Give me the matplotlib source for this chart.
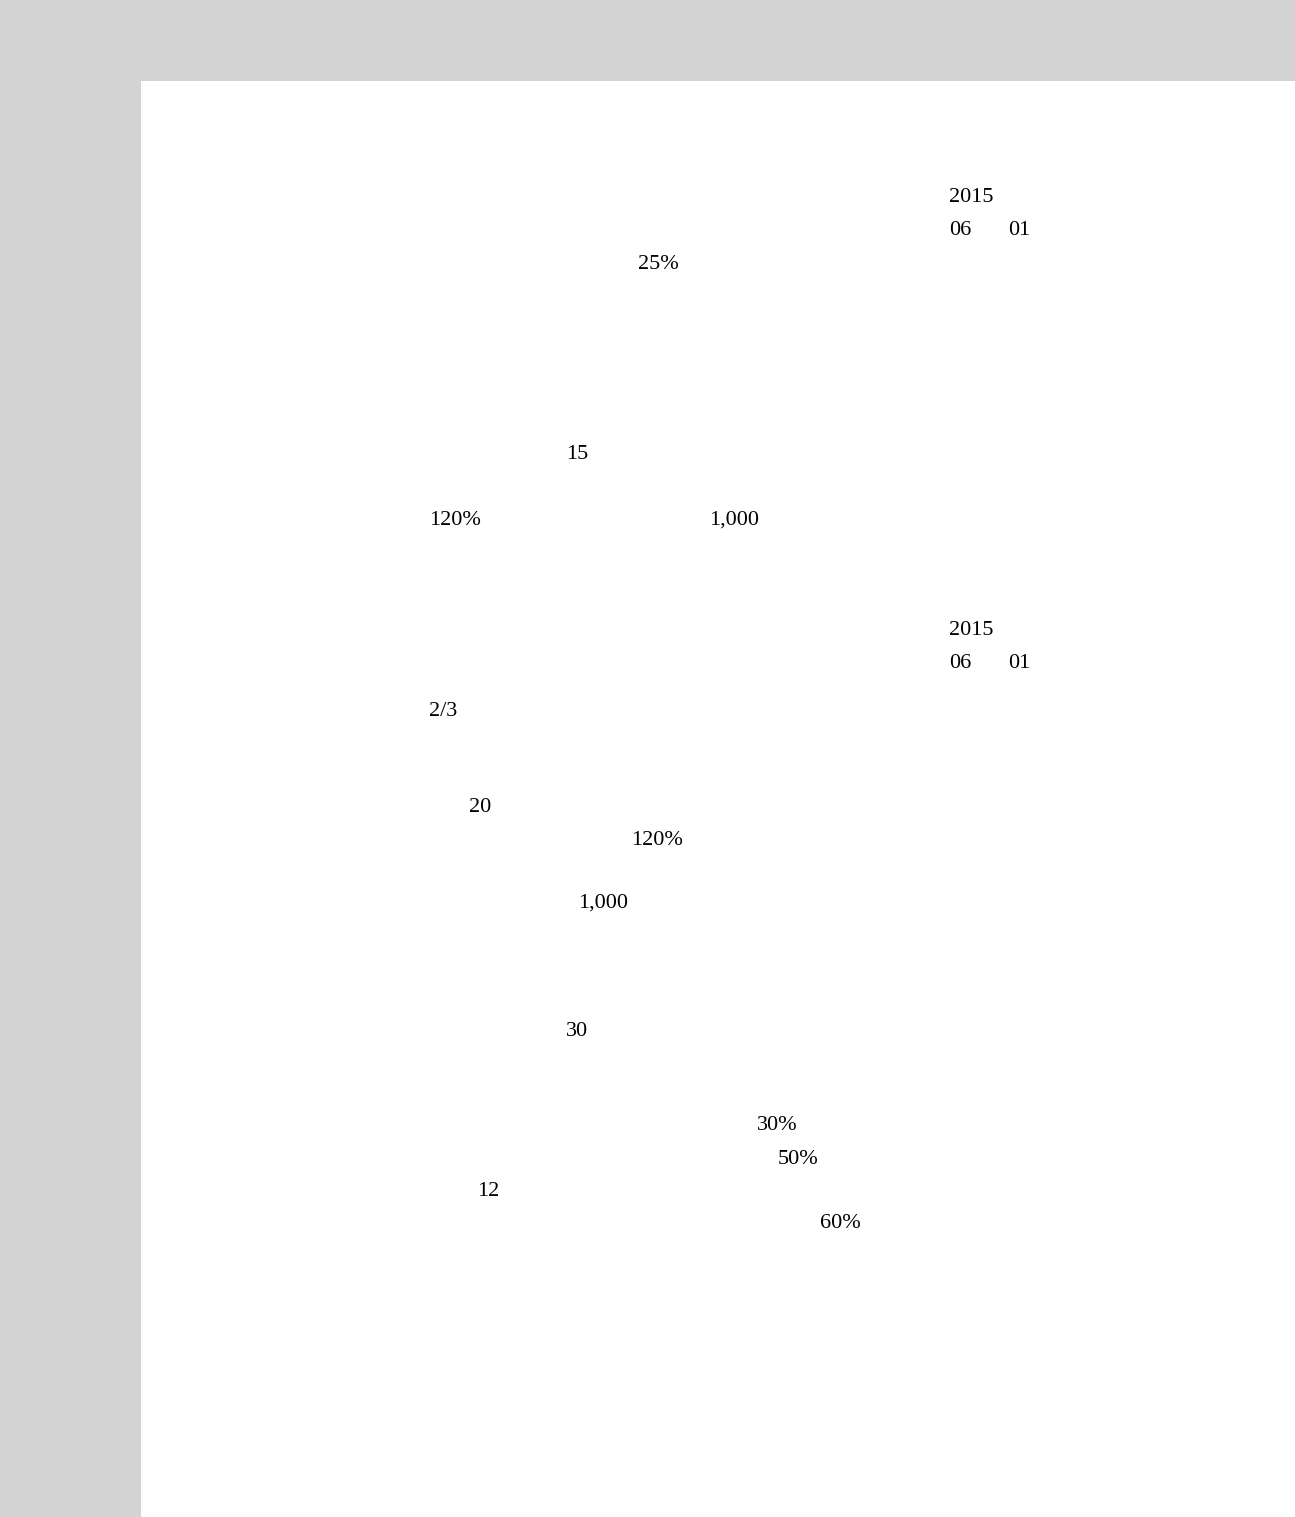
import matplotlib
matplotlib.use("Agg")
import matplotlib.pyplot as plt
from matplotlib.patches import Rectangle

# Text fragments visible on the page (glyphs other than digits are not rendered)
labels = ["2015", "06", "01", "25%", "15", "120%", "1,000",
          "2015", "06", "01", "2/3", "20", "120%", "1,000",
          "30", "30%", "50%", "12", "60%"]
label_x = [949, 949, 1008, 638, 566, 429, 709,
           949, 949, 1008, 429, 469, 631, 578,
           566, 757, 778, 477, 820]
label_y = [197, 230, 230, 264, 454, 520, 520,
           630, 663, 663, 711, 807, 840, 903,
           1032, 1126, 1159, 1192, 1224]

W, H = 1295, 1517
fig = plt.figure(figsize=(W / 100, H / 100), dpi=100, facecolor="#d3d3d3")
ax = fig.add_axes([0, 0, 1, 1])
ax.set_xlim(0, W)
ax.set_ylim(H, 0)
ax.axis("off")
ax.patch.set_alpha(0)

# white page
ax.add_patch(Rectangle((141, 81), W - 141, H - 81, facecolor="white", edgecolor="none"))

for t, x, y in zip(labels, label_x, label_y):
    ax.text(x, y, t, fontsize=16, family="Liberation Serif", color="black",
            ha="left", va="center")

fig.savefig("out.png", dpi=100, facecolor=fig.get_facecolor())
